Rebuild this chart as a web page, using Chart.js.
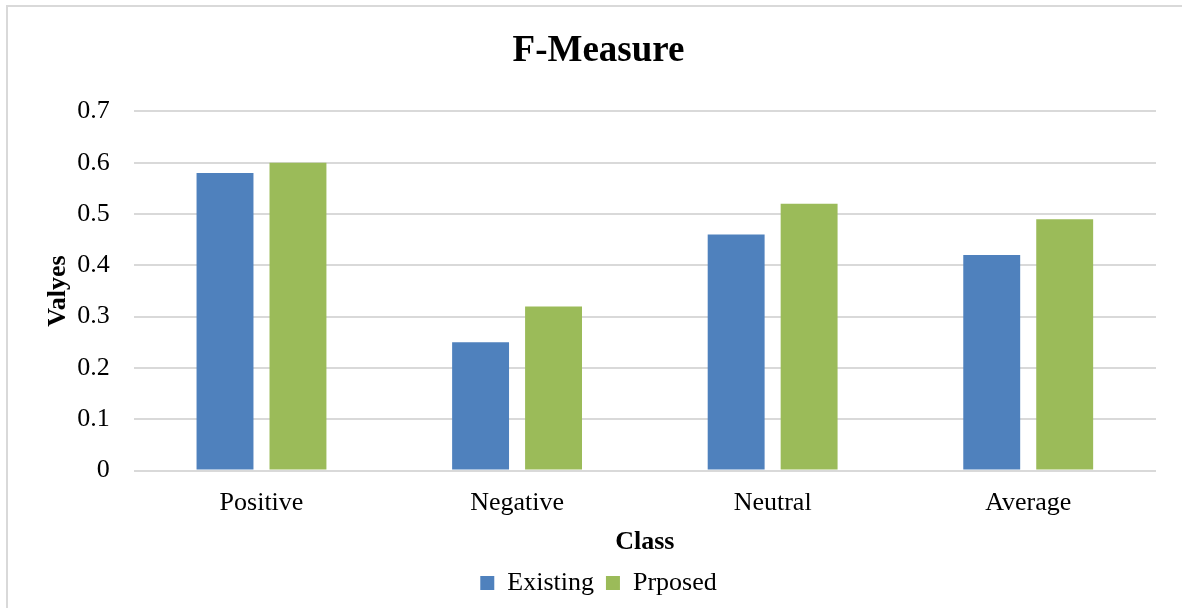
<!DOCTYPE html>
<html>
<head>
<meta charset="utf-8">
<script src="https://cdn.jsdelivr.net/npm/chart.js@4"></script>
<style>
  html, body { margin: 0; padding: 0; background: #fff; }
  #wrap { position: relative; width: 1182px; height: 608px; overflow: hidden; }
  #frame { position: absolute; left: 6px; top: 5px; width: 1200px; height: 640px; border: 2px solid #d9d9d9; box-sizing: border-box; }
  #chart { position: absolute; left: 0; top: 0; }
</style>
</head>
<body>
<div id="wrap">
  <div id="frame"></div>
  <canvas id="chart" width="1182" height="608"></canvas>
</div>
<script>
// chart values
const classes = ['Positive', 'Negative', 'Neutral', 'Average'];
const existing = [0.58, 0.25, 0.46, 0.42];
const proposed = [0.60, 0.32, 0.52, 0.49];
const seriesNames = ['Existing', 'Prposed'];

const serif = "'Liberation Serif', 'Times New Roman', serif";

new Chart(document.getElementById('chart'), {
  type: 'bar',
  data: {
    labels: classes,
    datasets: [
      { label: seriesNames[0], data: existing, backgroundColor: '#4f81bd' },
      { label: seriesNames[1], data: proposed, backgroundColor: '#9bbb59' }
    ]
  },
  options: {
    responsive: false,
    animation: false,
    categoryPercentage: 0.571,
    barPercentage: 0.78,
    layout: { padding: { left: 41, right: 26, top: 0, bottom: 2 } },
    plugins: {
      title: {
        display: true,
        text: 'F-Measure',
        color: '#000',
        font: { family: serif, size: 37, weight: 'bold' },
        padding: { top: 29, bottom: 38 }
      },
      legend: {
        position: 'bottom',
        labels: {
          color: '#000',
          font: { family: serif, size: 26 },
          boxWidth: 14,
          boxHeight: 14,
          padding: 12
        }
      },
      tooltip: { enabled: false }
    },
    scales: {
      x: {
        // only invisible tick marks, used as spacing under the axis
        grid: { display: true, drawOnChartArea: false, tickLength: 17, tickColor: 'transparent' },
        border: { display: false },
        ticks: { color: '#000', font: { family: serif, size: 26 }, padding: 0 },
        title: {
          display: true,
          text: 'Class',
          color: '#000',
          font: { family: serif, size: 26, weight: 'bold' },
          padding: { top: 8, bottom: 0 }
        }
      },
      y: {
        min: 0,
        max: 0.7,
        ticks: { stepSize: 0.1, color: '#000', font: { family: serif, size: 26 }, padding: 0 },
        grid: { color: '#d9d9d9', lineWidth: 2, tickLength: 24, tickColor: 'transparent' },
        border: { display: false },
        title: {
          display: true,
          text: 'Valyes',
          color: '#000',
          font: { family: serif, size: 26, weight: 'bold' },
          padding: { top: 2, bottom: 3 }
        }
      }
    }
  }
});
</script>
</body>
</html>
